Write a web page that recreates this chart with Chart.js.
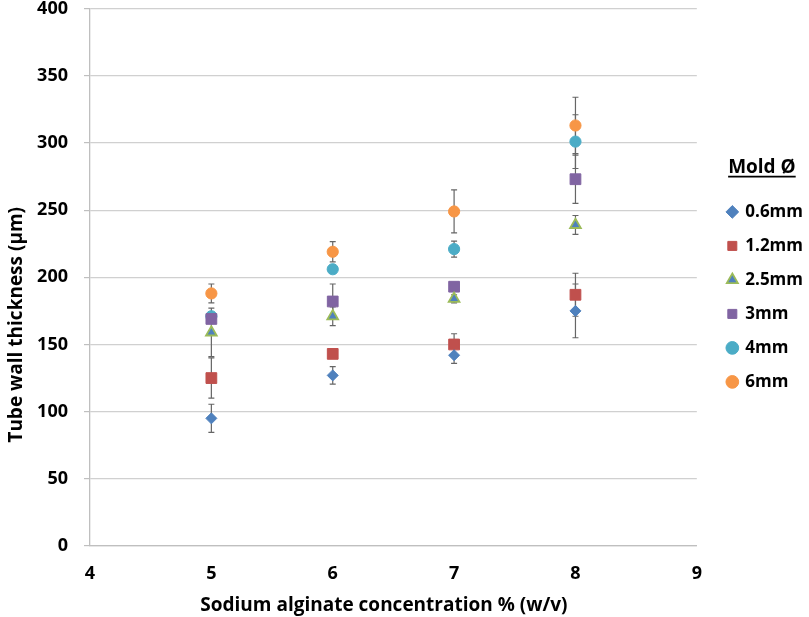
<!DOCTYPE html>
<html>
<head>
<meta charset="utf-8">
<script src="https://cdn.jsdelivr.net/npm/chart.js@4"></script>
<style>
html,body{margin:0;padding:0;background:#fff;}
#wrap{width:809px;height:617px;position:relative;}
</style>
</head>
<body>
<div id="wrap"><canvas id="c" width="809" height="617"></canvas></div>
<script>
const concentrations = [5, 6, 7, 8];
const seriesNames = ['0.6mm', '1.2mm', '2.5mm', '3mm', '4mm', '6mm'];
const v06 = [95, 127, 142, 175];
const v12 = [125, 143, 150, 187];
const v25 = [159, 171, 184, 239];
const v3  = [169, 182, 193, 273];
const v4  = [171, 206, 221, 301];
const v6  = [188, 219, 249, 313];
const e06 = [10.5, 6.5, 6, 20];
const e12 = [15, 3, 8, 16];
const e25 = [18, 7, 3, 7];
const e3  = [3, 13, 3, 18];
const e4  = [3, 3, 6, 20];
const e6  = [7, 7.5, 16, 21];
const yTicks = [0, 50, 100, 150, 200, 250, 300, 350, 400];
const xTicks = [4, 5, 6, 7, 8, 9];

const values = [v06, v12, v25, v3, v4, v6];
const errors = [e06, e12, e25, e3, e4, e6];
const fills = ['#4F81BD', '#C0504D', '#4F81BD', '#8064A2', '#4BACC6', '#F79646'];
const borders = ['#4F81BD', '#C0504D', '#9BBB59', '#8064A2', '#4BACC6', '#F79646'];
const styles = ['rectRot', 'rect', 'triangle', 'rect', 'circle', 'circle'];
const radii = [5.5, 7.6, 6.2, 7.6, 5.6, 5.6];
const bws = [1, 1, 1.8, 1, 1, 1];

const FONT = '"Open Sans", "Liberation Sans", sans-serif';

const datasets = seriesNames.map((name, i) => ({
  label: name,
  data: concentrations.map((x, j) => ({x: x, y: values[i][j], err: errors[i][j]})),
  backgroundColor: fills[i],
  borderColor: borders[i],
  borderWidth: bws[i],
  pointStyle: styles[i],
  pointRadius: radii[i],
  pointHoverRadius: radii[i],
  showLine: false
}));

const errorBars = {
  id: 'errorBars',
  beforeDatasetsDraw(chart) {
    const ctx = chart.ctx;
    const xs = chart.scales.x, ys = chart.scales.y;
    ctx.save();
    ctx.strokeStyle = '#666666';
    ctx.lineWidth = 1.2;
    chart.data.datasets.forEach(ds => {
      ds.data.forEach(p => {
        const px = xs.getPixelForValue(p.x);
        const top = ys.getPixelForValue(p.y + p.err);
        const bot = ys.getPixelForValue(p.y - p.err);
        ctx.beginPath();
        ctx.moveTo(px, top); ctx.lineTo(px, bot);
        ctx.moveTo(px - 3, top); ctx.lineTo(px + 3, top);
        ctx.moveTo(px - 3, bot); ctx.lineTo(px + 3, bot);
        ctx.stroke();
      });
    });
    ctx.restore();
  }
};

const LEGEND_DY = -26;
const LEGEND_DX = 14;
const legendTweak = {
  id: 'legendTweak',
  afterLayout(chart) {
    const lg = chart.legend;
    if (!lg) return;
    lg.top += LEGEND_DY;
    lg.bottom += LEGEND_DY;
    lg.left += LEGEND_DX;
    lg.right += LEGEND_DX;
  },
  afterDraw(chart) {
    const lg = chart.legend;
    if (!lg || !lg.options.title.display) return;
    const ctx = chart.ctx;
    const to = lg.options.title;
    const fs = to.font.size;
    const maxH = lg.columnSizes.reduce((a, s) => Math.max(a, s.height), 0);
    const y = to.padding.top + fs / 2 +
      (lg.top + (lg.bottom - maxH - lg.options.labels.padding - lg._computeTitleHeight())) / 2;
    ctx.save();
    ctx.font = 'bold ' + fs + 'px ' + FONT;
    const w = ctx.measureText(to.text).width;
    const cx = lg.left + lg.width / 2;
    ctx.strokeStyle = '#000';
    ctx.lineWidth = 1.6;
    ctx.beginPath();
    ctx.moveTo(cx - w / 2, y + fs * 0.5);
    ctx.lineTo(cx + w / 2, y + fs * 0.5);
    ctx.stroke();
    ctx.restore();
  }
};

new Chart(document.getElementById('c'), {
  type: 'scatter',
  data: { datasets: datasets },
  options: {
    responsive: false,
    animation: false,
    layout: { padding: { top: 0, right: 10, left: 0, bottom: 0 } },
    plugins: {
      tooltip: { enabled: false },
      legend: {
        position: 'right',
        align: 'center',
        title: {
          display: true,
          text: 'Mold Ø',
          color: '#000',
          font: { family: FONT, size: 19, weight: 'bold' },
          padding: { top: 0, bottom: 6 }
        },
        labels: {
          usePointStyle: true,
          boxWidth: 9,
          boxHeight: 9,
          padding: 17,
          color: '#000',
          font: { family: FONT, size: 17, weight: 'bold' }
        }
      }
    },
    scales: {
      x: {
        type: 'linear',
        min: 4, max: 9,
        afterBuildTicks: s => { s.ticks = xTicks.map(v => ({value: v})); },
        afterFit: s => { s.height = 71; },
        grid: { display: false, drawTicks: true, tickLength: 6, tickColor: '#bfbfbf' },
        border: { display: true, color: '#bfbfbf', width: 1.3 },
        ticks: { color: '#000', font: { family: FONT, size: 18, weight: 'bold' }, padding: 11 },
        title: { display: true, text: 'Sodium alginate concentration % (w/v)\u2003', color: '#000',
                 font: { family: FONT, size: 19, weight: 'bold' }, padding: { top: 0, bottom: 0 } }
      },
      y: {
        type: 'linear',
        min: 0, max: 400,
        afterBuildTicks: s => { s.ticks = yTicks.map(v => ({value: v})); },
        afterFit: s => { s.width = 90; s.paddingTop = 8; s.paddingBottom = 0; },
        grid: { color: '#d0d0d0', lineWidth: 1.2, tickLength: 6, tickColor: '#bfbfbf' },
        border: { display: true, color: '#bfbfbf', width: 1.3 },
        ticks: { color: '#000', font: { family: FONT, size: 18, weight: 'bold' }, padding: 16 },
        title: { display: true, text: 'Tube wall thickness (µm)\u2003\u2003\u2003\u2003\u2003', color: '#000',
                 font: { family: FONT, size: 19, weight: 'bold' }, padding: { top: 5, bottom: 0 } }
      }
    }
  },
  plugins: [errorBars, legendTweak]
});
</script>
</body>
</html>
